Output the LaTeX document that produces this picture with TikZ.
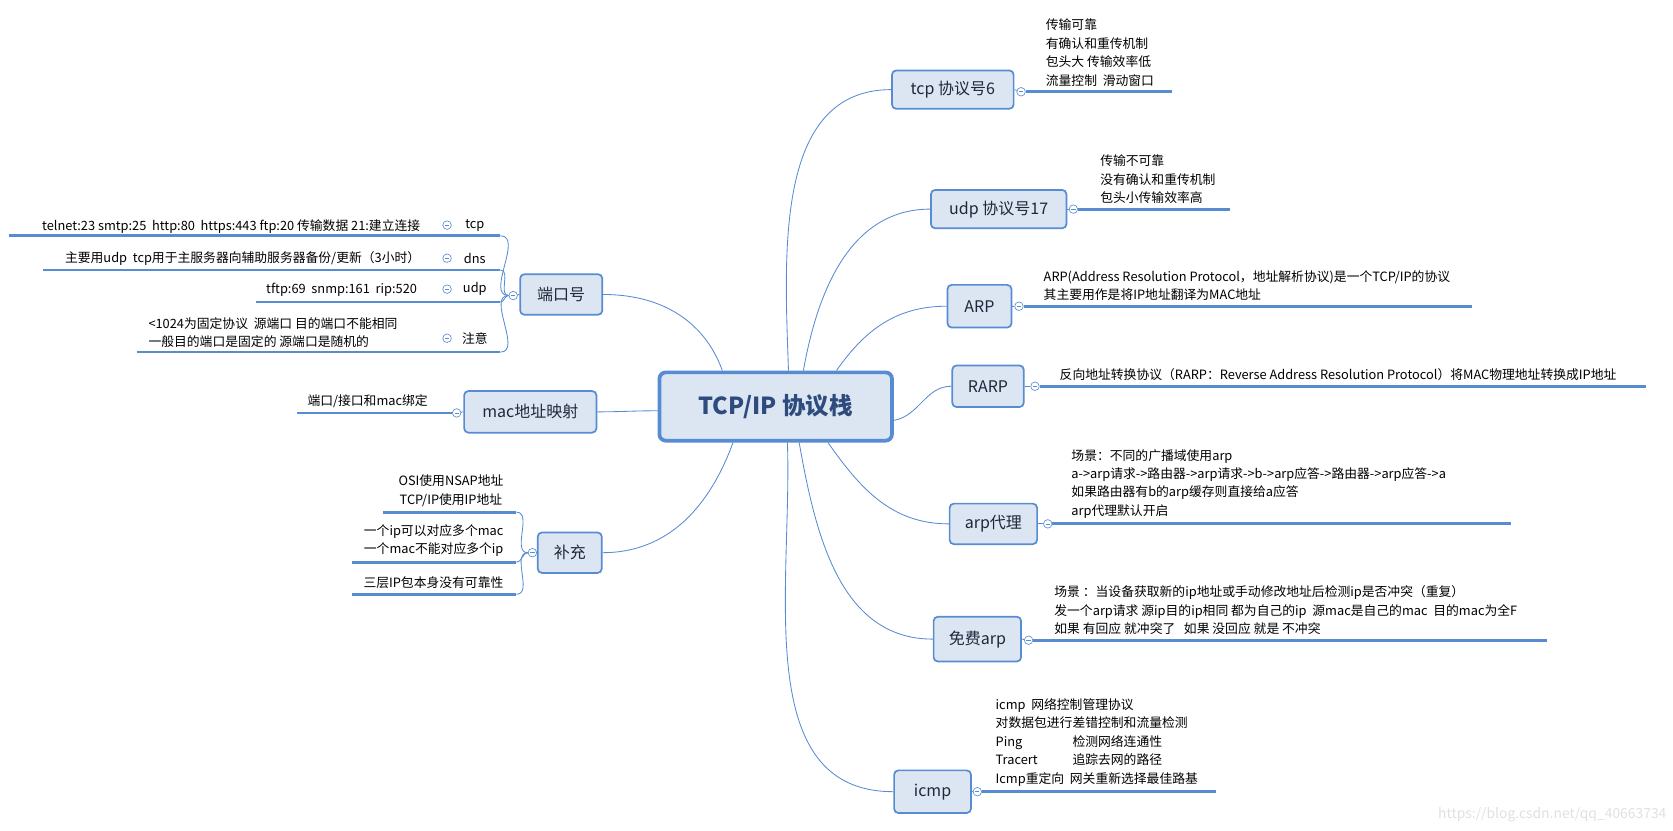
\documentclass[tikz,border=0pt]{standalone}
\usepackage{fontspec}
\setmainfont{Noto Sans CJK SC}
\definecolor{linec}{RGB}{88,140,210}
\definecolor{boxfill}{RGB}{220,230,242}
\definecolor{topictext}{RGB}{45,75,125}
\definecolor{branchtext}{RGB}{30,40,60}
\tikzstyle{topic} = [rectangle, rounded corners=6pt, draw=linec, line width=3.5pt, fill=boxfill, text=topictext, font=\fontsize{22}{26}\selectfont\bfseries]
\tikzstyle{branch} = [rectangle, rounded corners=4pt, draw=linec, line width=1.6pt, fill=boxfill, text=branchtext, font=\fontsize{15}{18}\selectfont]
\tikzstyle{detail} = [inner sep=0pt, align=left, font=\fontsize{12}{17.3}\selectfont]
\tikzstyle{knob} = [circle, draw=linec, fill=white, inner sep=0pt, minimum size=8pt, line width=.6pt,
  path picture={\draw[linec, line width=.6pt] ([xshift=2pt]path picture bounding box.west) -- ([xshift=-2pt]path picture bounding box.east);}]
\tikzstyle{link} = [draw=linec, line width=.8pt]
\tikzstyle{underline} = [draw=linec, line width=2.6pt]
\newcommand{\tabbed}[1]{\makebox[72pt][l]{#1}}

\begin{document}
\begin{tikzpicture}[x=1pt, y=-1pt]
  \useasboundingbox (0,0) rectangle (1568,778);

  % centre
  \node (root) [topic, minimum width=218pt, minimum height=64pt] at (727,381) {TCP/IP 协议栈};

  % right side
  \node (tcp) [branch, minimum width=114pt, minimum height=36pt] at (893,84) {tcp 协议号6};
  \node (udp) [branch, minimum width=127pt, minimum height=36pt] at (936,196) {udp 协议号17};
  \node (arp) [branch, minimum width=60pt, minimum height=40pt] at (918,287) {ARP};
  \node (rarp) [branch, minimum width=67pt, minimum height=39pt] at (926,362) {RARP};
  \node (proxy) [branch, minimum width=82pt, minimum height=38pt] at (931,491) {arp代理};
  \node (garp) [branch, minimum width=82pt, minimum height=42pt] at (916,599) {免费arp};
  \node (icmp) [branch, minimum width=72pt, minimum height=40pt] at (874,742) {icmp};

  % left side
  \node (port) [branch, minimum width=77pt, minimum height=38pt] at (526,276) {端口号};
  \node (mac) [branch, minimum width=124pt, minimum height=39pt] at (497,386) {mac地址映射};
  \node (extra) [branch, minimum width=60pt, minimum height=38pt] at (534,518) {补充};

  % branches from the centre
  \draw[link] ([xshift=12pt]root.north) to[out=92, in=180] (tcp.west);
  \draw[link] ([xshift=26pt]root.north) to[out=80, in=180] (udp.west);
  \draw[link] ([xshift=57pt]root.north) to[out=55, in=180] (arp.west);
  \draw[link] ([yshift=-13pt]root.east) to[out=10, in=180] (rarp.west);
  \draw[link] ([xshift=49pt]root.south) to[out=-55, in=180] (proxy.west);
  \draw[link] ([xshift=22pt]root.south) to[out=-80, in=180] (garp.west);
  \draw[link] ([xshift=11pt]root.south) to[out=-88, in=180] (icmp.west);
  \draw[link] ([xshift=-50pt]root.north) to[out=110, in=0] (port.east);
  \draw[link] ([yshift=-4pt]root.west) to[out=180, in=0] (mac.east);
  \draw[link] ([xshift=-40pt]root.south) to[out=-110, in=0] (extra.east);

  % right side details
  \node (ktcp) [knob] at (957,86) {};
  \coordinate (etcp) at (1098,86);
  \draw[link] (tcp.east) -- (ktcp); \draw[underline] (ktcp.east) -- (etcp);
  \node (dtcp) [detail, anchor=south west] at (980,81) {传输可靠\\有确认和重传机制\\包头大 传输效率低\\流量控制\ \ 滑动窗口};

  \node (kudp) [knob] at (1006,196) {};
  \coordinate (eudp) at (1153,196);
  \draw[link] (udp.east) -- (kudp); \draw[underline] (kudp.east) -- (eudp);
  \node (dudp) [detail, anchor=south west] at (1031,191) {传输不可靠\\没有确认和重传机制\\包头小传输效率高};

  \node (karp) [knob] at (955,287) {};
  \coordinate (earp) at (1380,287);
  \draw[link] (arp.east) -- (karp); \draw[underline] (karp.east) -- (earp);
  \node (darp) [detail, anchor=south west] at (978,282) {ARP(Address Resolution Protocol，地址解析协议)是一个TCP/IP的协议\\其主要用作是将IP地址翻译为MAC地址};

  \node (krarp) [knob] at (970,362) {};
  \coordinate (erarp) at (1543,362);
  \draw[link] (rarp.east) -- (krarp); \draw[underline] (krarp.east) -- (erarp);
  \node (drarp) [detail, anchor=south west] at (993,357) {反向地址转换协议（RARP：Reverse Address Resolution Protocol）将MAC物理地址转换成IP地址};

  \node (kproxy) [knob] at (982,491) {};
  \coordinate (eproxy) at (1416,491);
  \draw[link] (proxy.east) -- (kproxy); \draw[underline] (kproxy.east) -- (eproxy);
  \node (dproxy) [detail, anchor=south west] at (1004,486) {场景：不同的广播域使用arp\\a->arp请求->路由器->arp请求->b->arp应答->路由器->arp应答->a\\如果路由器有b的arp缓存则直接给a应答\\arp代理默认开启};

  \node (kgarp) [knob] at (964,600) {};
  \coordinate (egarp) at (1450,600);
  \draw[link] (garp.east) -- (kgarp); \draw[underline] (kgarp.east) -- (egarp);
  \node (dgarp) [detail, anchor=south west] at (988,595) {场景 ：当设备获取新的ip地址或手动修改地址后检测ip是否冲突（重复）\\发一个arp请求 源ip目的ip相同 都为自己的ip\ \ 源mac是自己的mac\ \ 目的mac为全F\\如果 有回应 就冲突了\ \ \ 如果 没回应 就是 不冲突};

  \node (kicmp) [knob] at (916,742) {};
  \coordinate (eicmp) at (1140,742);
  \draw[link] (icmp.east) -- (kicmp); \draw[underline] (kicmp.east) -- (eicmp);
  \node (dicmp) [detail, anchor=south west] at (933,737) {icmp\ \ 网络控制管理协议\\对数据包进行差错控制和流量检测\\\tabbed{Ping}检测网络连通性\\\tabbed{Tracert}追踪去网的路径\\Icmp重定向\ \ 网关重新选择最佳路基};

  % port numbers
  \node (kport) [knob] at (481,277) {};
  \draw[link] (port.west) -- (kport);
  \foreach \name/\label/\ky/\ly/\lx in {ptcp/tcp/211/221/8, pdns/dns/242/253/40, pudp/udp/271/283/240, pnote/注意/317/330/128}{
    \node (\name) [detail, font=\fontsize{12}{14}\selectfont, anchor=center] at (445,\ky) {\label};
    \node (k\name) [knob] at (419,\ky) {};
    \coordinate (s\name) at (\lx,\ly);
    \coordinate (e\name) at (469,\ly);
    \draw[underline] (s\name) -- (e\name);
    \draw[link] (kport.west) to[out=180, in=0] (e\name);
  }
  \node (tptcp) [detail, anchor=east] at (394,212) {telnet:23 smtp:25\ \ http:80\ \ https:443 ftp:20 传输数据 21:建立连接};
  \node (tpdns) [detail, anchor=east] at (394,242) {主要用udp\ \ tcp用于主服务器向辅助服务器备份/更新（3小时）};
  \node (tpudp) [detail, anchor=east] at (391,272) {tftp:69\ \ snmp:161\ \ rip:520};
  \node (tpnote) [detail, anchor=south west] at (139,326) {<1024为固定协议\ \ 源端口 目的端口不能相同\\一般目的端口是固定的 源端口是随机的};

  % mac mapping
  \node (kmac) [knob] at (428,387) {};
  \coordinate (smac) at (278,387);
  \draw[link] (mac.west) -- (kmac); \draw[underline] (kmac.west) -- (smac);
  \node (dmac) [detail, anchor=south west] at (288,382) {端口/接口和mac绑定};

  % supplement
  \node (kextra) [knob] at (499,518) {};
  \draw[link] (extra.west) -- (kextra);
  \foreach \name/\ly/\lx in {xa/480/359, xb/527/330, xc/557/330}{
    \coordinate (s\name) at (\lx,\ly);
    \coordinate (e\name) at (484,\ly);
    \draw[underline] (s\name) -- (e\name);
    \draw[link] (kextra.west) to[out=180, in=0] (e\name);
  }
  \node (dxa) [detail, align=center, anchor=south east] at (472,475) {OSI使用NSAP地址\\TCP/IP使用IP地址};
  \node (dxb) [detail, align=right, anchor=south east] at (472,522) {一个ip可以对应多个mac\\一个mac不能对应多个ip};
  \node (dxc) [detail, anchor=south east] at (472,552) {三层IP包本身没有可靠性};

  \node (mark) [detail, text=black!12, font=\fontsize{13}{15}\selectfont, anchor=east] at (1562,764) {https://blog.csdn.net/qq\_40663734};
\end{tikzpicture}
\end{document}
